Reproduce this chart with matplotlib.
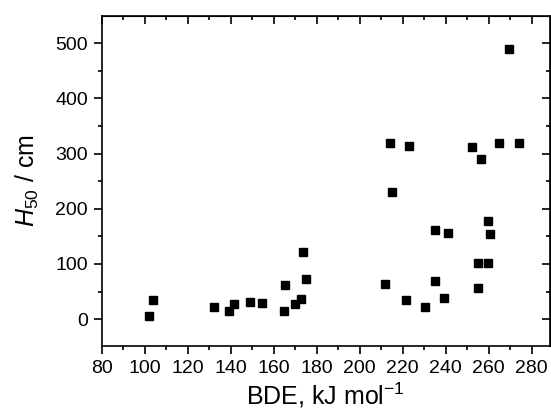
import matplotlib
matplotlib.use("Agg")
import matplotlib.pyplot as plt
from matplotlib.ticker import MultipleLocator

plt.rcParams['font.family'] = ['Liberation Sans', 'DejaVu Sans']
plt.rcParams['mathtext.fontset'] = 'custom'
plt.rcParams['mathtext.rm'] = 'Liberation Sans'
plt.rcParams['mathtext.it'] = 'Liberation Sans:italic'

# BDE (kJ/mol) and impact sensitivity H50 (cm)
bde = [102.1, 104.0, 132.2, 139.4, 141.7, 148.8, 154.7, 164.9, 165.4, 169.9,
       172.6, 173.8, 175.0, 211.6, 213.9, 214.9, 221.7, 222.8, 230.2, 235.0,
       235.2, 239.4, 241.2, 252.2, 254.9, 254.9, 256.3, 259.5, 259.5, 260.7,
       264.8, 269.6, 274.2]
h50 = [6, 34, 22, 14, 27, 31, 29, 14, 61, 28,
       36, 121, 72, 64, 319, 230, 35, 313, 22, 161,
       69, 39, 156, 312, 101, 57, 290, 178, 101, 154,
       319, 489, 319]

fig = plt.figure(figsize=(5.51, 4.12), dpi=100)
ax = fig.add_axes([0.1846, 0.161, 0.8134, 0.8])

ax.plot(bde, h50, 's', color='black', markersize=5.5, linestyle='none')

ax.set_xlim(80, 288.5)
ax.set_ylim(-48, 549)
ax.xaxis.set_major_locator(MultipleLocator(20))
ax.xaxis.set_minor_locator(MultipleLocator(10))
ax.yaxis.set_major_locator(MultipleLocator(100))
ax.yaxis.set_minor_locator(MultipleLocator(50))

ax.tick_params(which='both', direction='out', top=False, right=False,
               labelsize=14, width=1.2, pad=4)
ax.tick_params(which='major', length=6)
ax.tick_params(which='minor', length=3)

# inward ticks on top and right, no labels
ax2 = ax.secondary_xaxis('top')
ax2.xaxis.set_major_locator(MultipleLocator(20))
ax2.xaxis.set_minor_locator(MultipleLocator(10))
ax2.tick_params(which='both', direction='in', labeltop=False, width=1.2)
ax2.tick_params(which='major', length=6)
ax2.tick_params(which='minor', length=3)
ay2 = ax.secondary_yaxis('right')
ay2.yaxis.set_major_locator(MultipleLocator(100))
ay2.yaxis.set_minor_locator(MultipleLocator(50))
ay2.tick_params(which='both', direction='in', labelright=False, width=1.2)
ay2.tick_params(which='major', length=6)
ay2.tick_params(which='minor', length=3)

for s in ax.spines.values():
    s.set_linewidth(1.2)

ax.set_xlabel('BDE, kJ mol$^{\\mathregular{-1}}$', fontsize=18, labelpad=3)
ax.set_ylabel('$H_{\\mathregular{50}}$ / cm', fontsize=18, labelpad=10)

fig.savefig('out.png', dpi=100)
